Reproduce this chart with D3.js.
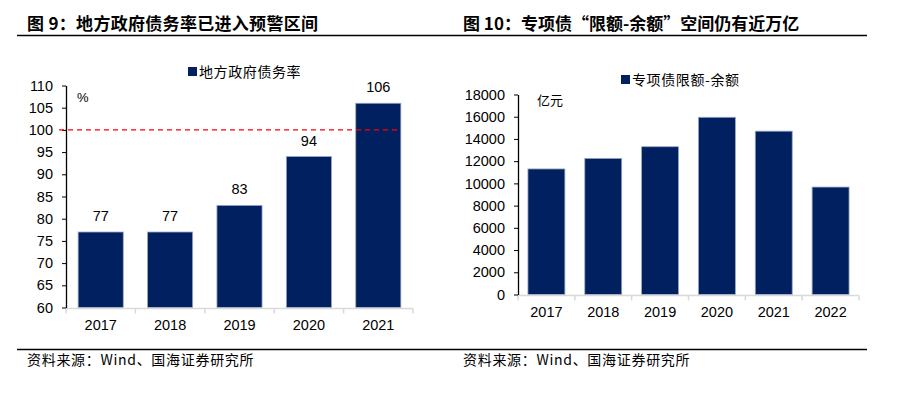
<!DOCTYPE html>
<html>
<head>
<meta charset="utf-8">
<script src="https://cdn.jsdelivr.net/npm/d3@7"></script>
<style>
    body { margin: 0; background: #fff; }
    text { font-family: Arial, "Liberation Sans", sans-serif; }
    .cjk { font-family: "Noto Sans CJK SC", sans-serif; }
</style>
</head>
<body>
<script>
// chart 1: local government debt ratio
const debtYears = ['2017', '2018', '2019', '2020', '2021']
const debtRatio = [77, 77, 83, 94, 106]
const debtTicks = [60, 65, 70, 75, 80, 85, 90, 95, 100, 105, 110]
const warnLevel = 100

// chart 2: special bond quota minus balance
const quotaYears = ['2017', '2018', '2019', '2020', '2021', '2022']
const quotaGap = [11300, 12250, 13300, 15950, 14700, 9670]
const quotaTicks = [0, 2000, 4000, 6000, 8000, 10000, 12000, 14000, 16000, 18000]

const w = 902
const h = 396
const barColor = '#00205f'

const svg = d3.select('body')
    .append('svg')
    .attr('width', w)
    .attr('height', h)

// header / footer rules and texts
svg.append('line')
    .attr('x1', 17).attr('x2', 867).attr('y1', 35.5).attr('y2', 35.5)
    .attr('stroke', '#000').attr('stroke-width', 1.3)
svg.append('line')
    .attr('x1', 17).attr('x2', 867).attr('y1', 349.5).attr('y2', 349.5)
    .attr('stroke', '#000').attr('stroke-width', 1.3)

svg.append('text').attr('class', 'cjk')
    .attr('x', 27).attr('y', 30)
    .attr('font-size', 17).attr('font-weight', 'bold')
    .attr('letter-spacing', 0.3)
    .text('图 9：地方政府债务率已进入预警区间')
svg.append('text').attr('class', 'cjk')
    .attr('x', 463).attr('y', 30)
    .attr('font-size', 17).attr('font-weight', 'bold')
    .text('图 10：专项债“限额-余额”空间仍有近万亿')

svg.append('text').attr('class', 'cjk')
    .attr('x', 27).attr('y', 365)
    .attr('font-size', 14).attr('letter-spacing', 0.7)
    .text('资料来源：Wind、国海证券研究所')
svg.append('text').attr('class', 'cjk')
    .attr('x', 463).attr('y', 365)
    .attr('font-size', 14).attr('letter-spacing', 0.7)
    .text('资料来源：Wind、国海证券研究所')

function drawChart(opt) {
    const g = svg.append('g')

    const xScale = d3.scaleBand()
        .domain(opt.years)
        .range([opt.x0, opt.x1])
        .paddingInner(0.35)
        .paddingOuter(0.175)

    const yScale = d3.scaleLinear()
        .domain([opt.ticks[0], opt.ticks[opt.ticks.length - 1]])
        .range([opt.y0, opt.y1])

    // bars
    g.selectAll('rect')
        .data(opt.values)
        .enter()
        .append('rect')
        .attr('x', (d, i) => xScale(opt.years[i]))
        .attr('y', d => yScale(d))
        .attr('width', xScale.bandwidth())
        .attr('height', d => yScale(opt.ticks[0]) - yScale(d))
        .attr('fill', barColor)
        .attr('stroke', '#9aa7c4')
        .attr('stroke-width', 0.8)

    // x axis: grey line with ticks at band borders
    const step = xScale.step()
    const borders = opt.years.map(d => xScale(d) - step * 0.175).concat([opt.x1])
    g.append('line')
        .attr('x1', opt.x0).attr('x2', opt.x1)
        .attr('y1', opt.y0 + 1).attr('y2', opt.y0 + 1)
        .attr('stroke', '#d9d9d9').attr('stroke-width', 1.5)
    g.selectAll('.xtick')
        .data(borders)
        .enter()
        .append('line')
        .attr('class', 'xtick')
        .attr('x1', d => d).attr('x2', d => d)
        .attr('y1', opt.y0 + 1).attr('y2', opt.y0 + 6)
        .attr('stroke', '#d9d9d9').attr('stroke-width', 1.5)

    const xAxis = d3.axisBottom(xScale).tickSize(0).tickPadding(opt.xPad)
    g.append('g')
        .attr('transform', 'translate(0,' + opt.y0 + ')')
        .call(xAxis)
        .call(a => a.select('.domain').remove())
        .selectAll('text')
        .attr('font-size', 14.5)
        .attr('fill', '#000')
        .style('font-family', 'Arial, "Liberation Sans", sans-serif')

    // y axis
    const yAxis = d3.axisLeft(yScale)
        .tickValues(opt.ticks)
        .tickFormat(d3.format('d'))
        .tickSize(4)
        .tickSizeOuter(0)
        .tickPadding(9)
    g.append('g')
        .attr('transform', 'translate(' + opt.x0 + ',0)')
        .call(yAxis)
        .call(a => a.select('.domain').attr('stroke-width', 1.3))
        .selectAll('text')
        .attr('font-size', 14.5)
        .attr('fill', '#000')
        .style('font-family', 'Arial, "Liberation Sans", sans-serif')

    // legend
    g.append('rect')
        .attr('x', opt.legendX).attr('y', opt.legendY - 5)
        .attr('width', 9).attr('height', 9)
        .attr('fill', barColor)
    g.append('text').attr('class', 'cjk')
        .attr('x', opt.legendX + 11).attr('y', opt.legendY + 5)
        .attr('font-size', 14).attr('letter-spacing', 0.6)
        .text(opt.legend)

    // unit label
    g.append('text').attr('class', opt.unitCjk ? 'cjk' : null)
        .attr('x', opt.unitX).attr('y', opt.unitY)
        .attr('font-size', 13)
        .text(opt.unit)

    return {g: g, xScale: xScale, yScale: yScale}
}

const c1 = drawChart({
    years: debtYears, values: debtRatio, ticks: debtTicks,
    x0: 66, x1: 413, y0: 307.5, y1: 85.5, xPad: 12,
    legend: '地方政府债务率', legendX: 188, legendY: 72,
    unit: '%', unitX: 77, unitY: 102, unitCjk: false
})

// warning line at 100
c1.g.append('line')
    .attr('x1', 59).attr('x2', 401)
    .attr('y1', c1.yScale(warnLevel)).attr('y2', c1.yScale(warnLevel))
    .attr('stroke', '#ff0000')
    .attr('stroke-width', 1.3)
    .attr('stroke-dasharray', '5,4')

// value labels
c1.g.selectAll('.val')
    .data(debtRatio)
    .enter()
    .append('text')
    .attr('class', 'val')
    .attr('x', (d, i) => c1.xScale(debtYears[i]) + c1.xScale.bandwidth() / 2)
    .attr('y', d => c1.yScale(d) - 11)
    .attr('text-anchor', 'middle')
    .attr('font-size', 14.5)
    .text(d => d)

drawChart({
    years: quotaYears, values: quotaGap, ticks: quotaTicks,
    x0: 518, x1: 859, y0: 294.5, y1: 94.5, xPad: 12,
    legend: '专项债限额-余额', legendX: 621, legendY: 80,
    unit: '亿元', unitX: 537, unitY: 105, unitCjk: true
})
</script>
</body>
</html>
